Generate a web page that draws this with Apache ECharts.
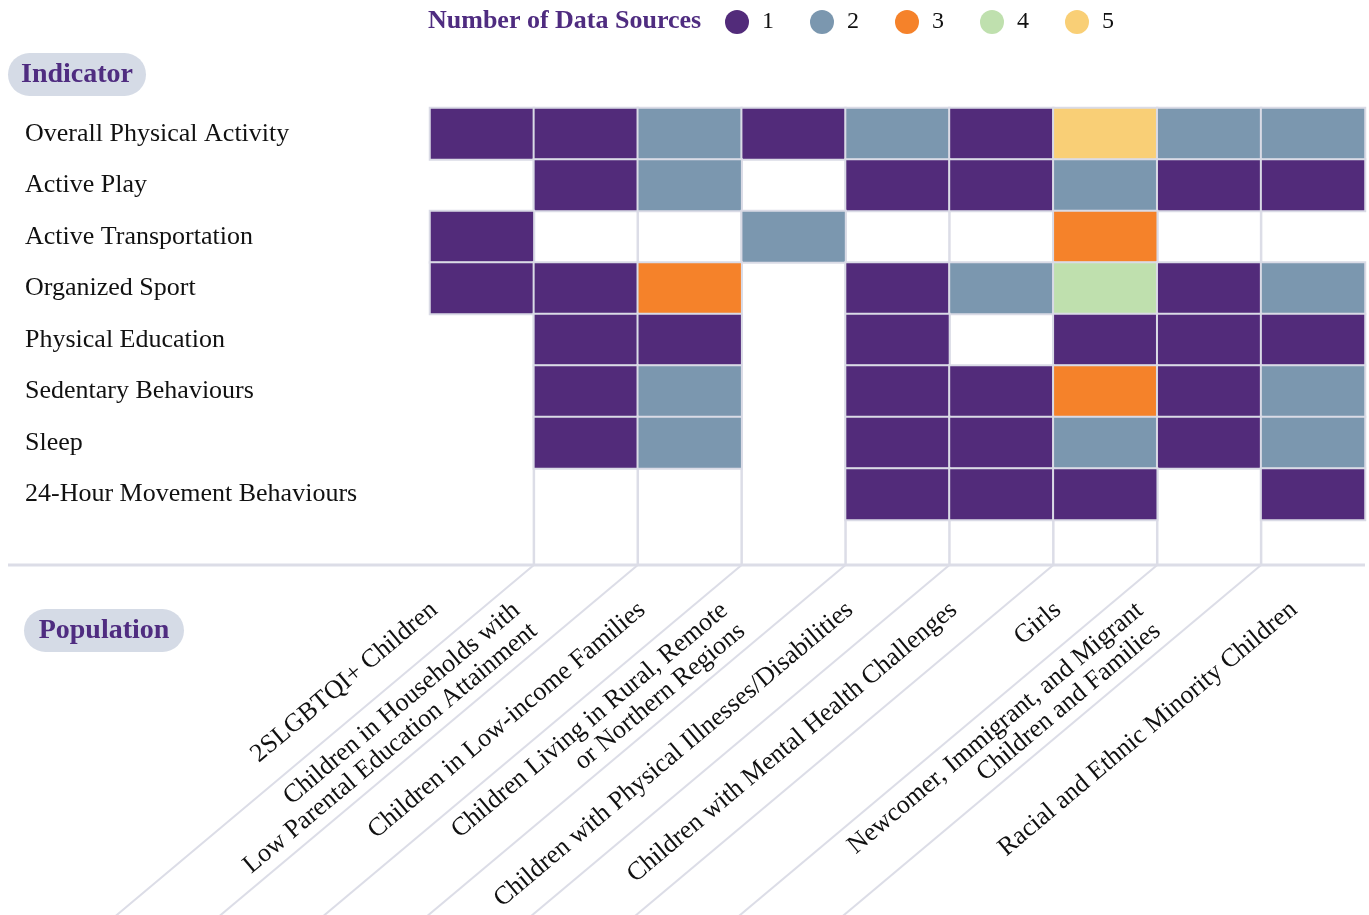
<!DOCTYPE html>
<html>
<head>
<meta charset="utf-8">
<script src="https://cdn.jsdelivr.net/npm/echarts@6/dist/echarts.min.js"></script>
<style>
  html, body { margin: 0; padding: 0; background: #fff; }
  #chart { width: 1369px; height: 915px; }
</style>
</head>
<body>
<div id="chart"></div>
<script>
// rows (top to bottom)
const indicators = [
  'Overall Physical Activity',
  'Active Play',
  'Active Transportation',
  'Organized Sport',
  'Physical Education',
  'Sedentary Behaviours',
  'Sleep',
  '24-Hour Movement Behaviours'
];

// columns (left to right)
const populations = [
  '2SLGBTQI+ Children',
  'Children in Households with\nLow Parental Education Attainment',
  'Children in Low-income Families',
  'Children Living in Rural, Remote\nor Northern Regions',
  'Children with Physical Illnesses/Disabilities',
  'Children with Mental Health Challenges',
  'Girls',
  'Newcomer, Immigrant, and Migrant\nChildren and Families',
  'Racial and Ethnic Minority Children'
];

// number of data sources, one row per indicator, 0 = none
const sourceCounts = [
  [1, 1, 2, 1, 2, 1, 5, 2, 2],
  [0, 1, 2, 0, 1, 1, 2, 1, 1],
  [1, 0, 0, 2, 0, 0, 3, 0, 0],
  [1, 1, 3, 0, 1, 2, 4, 1, 2],
  [0, 1, 1, 0, 1, 0, 1, 1, 1],
  [0, 1, 2, 0, 1, 1, 3, 1, 2],
  [0, 1, 2, 0, 1, 1, 2, 1, 2],
  [0, 0, 0, 0, 1, 1, 1, 0, 1]
];

const legendValues = [1, 2, 3, 4, 5];

const colors = ['#522b7a', '#7b97af', '#f5822a', '#bfe0ae', '#f9cf76'];
const purple = '#4f2c80';
const lineColor = '#dcdde7';
const FONT = 'Liberation Serif';

const cells = [];
sourceCounts.forEach((row, r) => {
  row.forEach((v, c) => {
    if (v > 0) cells.push([c, r, v]);
  });
});

const chart = echarts.init(document.getElementById('chart'));

const EXTRA = 45;            // blank strip under the last row
const ANG = 40 * Math.PI / 180;
const cosA = Math.cos(ANG), sinA = Math.sin(ANG);

// grid lines + diagonal guides
function renderGuides(params, api) {
  const i = api.value(0);
  const cs = params.coordSys;
  const bw = api.size([1, 0])[0];
  const xb = api.coord([i, 0])[0] - bw / 2;
  const yTop = cs.y;
  const yBase = cs.y + cs.height + EXTRA;
  const L = 700;
  const children = [
    { type: 'line', shape: { x1: xb, y1: yTop, x2: xb, y2: yBase }, style: { stroke: lineColor, lineWidth: 2.5 } },
    { type: 'line', shape: { x1: xb, y1: yBase, x2: xb - L * cosA, y2: yBase + L * sinA }, style: { stroke: lineColor, lineWidth: 2 } }
  ];
  if (params.dataIndex === 0) {
    children.push({ type: 'line', shape: { x1: 8, y1: yBase, x2: cs.x + cs.width, y2: yBase }, style: { stroke: lineColor, lineWidth: 3 } });
  }
  return { type: 'group', children: children };
}

// rotated population labels between the guides
function renderPopLabel(params, api) {
  const i = api.value(0);
  const cs = params.coordSys;
  const bw = api.size([1, 0])[0];
  const xr = api.coord([i, 0])[0] + bw / 2;
  const yBase = cs.y + cs.height + EXTRA;
  const text = populations[i];
  const twoLines = text.indexOf('\n') >= 0;
  let u = twoLines ? -120 : -103;
  let w = -32;
  if (i === populations.length - 1) { u = -81; w = -14; }
  const x = xr + u * cosA + w * sinA;
  const y = yBase - u * sinA + w * cosA;
  return {
    type: 'text',
    x: x,
    y: y,
    rotation: ANG,
    style: {
      text: text,
      x: 0, y: 0,
      align: 'right', verticalAlign: 'middle',
      textAlign: 'right', textVerticalAlign: 'middle',
      fontFamily: FONT, fontSize: 26, lineHeight: 27,
      fill: '#111'
    }
  };
}

const option = {
  animation: false,
  backgroundColor: '#fff',
  title: {
    text: 'Number of Data Sources',
    left: 428, top: 8,
    padding: 0,
    textStyle: { fontFamily: FONT, fontWeight: 'bold', fontSize: 26, color: purple }
  },
  visualMap: {
    type: 'piecewise',
    dimension: 2,
    orient: 'horizontal',
    left: 725, top: 10,
    padding: 0,
    itemWidth: 24, itemHeight: 24,
    itemGap: 36, textGap: 13,
    itemSymbol: 'circle',
    selectedMode: false,
    showLabel: true,
    pieces: legendValues.map((v, k) => ({ value: v, label: String(v), color: colors[k] })),
    textStyle: { fontFamily: FONT, fontSize: 24, color: '#111' },
    seriesIndex: 1
  },
  grid: { left: 430, right: 4, top: 108, bottom: 395 },
  xAxis: {
    type: 'category',
    data: populations,
    axisLine: { show: false },
    axisTick: { show: false },
    axisLabel: { show: false },
    splitLine: { show: false }
  },
  yAxis: {
    type: 'category',
    data: indicators,
    inverse: true,
    axisLine: { show: false },
    axisTick: { show: false },
    splitLine: { show: false },
    axisLabel: {
      align: 'left', margin: 405,
      fontFamily: FONT, fontSize: 26, color: '#111'
    }
  },
  graphic: [
    {
      type: 'group', left: 8, top: 53,
      children: [
        { type: 'rect', shape: { x: 0, y: 0, width: 138, height: 43, r: 21.5 }, style: { fill: '#d5dbe6' } },
        { type: 'text', x: 69, y: 21.5, style: { text: 'Indicator', align: 'center', verticalAlign: 'middle', textAlign: 'center', textVerticalAlign: 'middle', fontFamily: FONT, fontWeight: 'bold', fontSize: 28, fill: purple } }
      ]
    },
    {
      type: 'group', left: 24, top: 609,
      children: [
        { type: 'rect', shape: { x: 0, y: 0, width: 160, height: 43, r: 21.5 }, style: { fill: '#d5dbe6' } },
        { type: 'text', x: 80, y: 21.5, style: { text: 'Population', align: 'center', verticalAlign: 'middle', textAlign: 'center', textVerticalAlign: 'middle', fontFamily: FONT, fontWeight: 'bold', fontSize: 28, fill: purple } }
      ]
    }
  ],
  series: [
    {
      type: 'custom',
      z: 1,
      silent: true,
      clip: false,
      renderItem: renderGuides,
      encode: { x: 0, y: 1 },
      data: populations.slice(1).map((p, k) => [k + 1, 0])
    },
    {
      type: 'heatmap',
      z: 2,
      data: cells,
      itemStyle: { borderColor: '#dadbe6', borderWidth: 2 },
      emphasis: { disabled: true }
    },
    {
      type: 'custom',
      z: 3,
      silent: true,
      clip: false,
      renderItem: renderPopLabel,
      encode: { x: 0, y: 1 },
      data: populations.map((p, k) => [k, 0])
    }
  ]
};

chart.setOption(option);
</script>
</body>
</html>
